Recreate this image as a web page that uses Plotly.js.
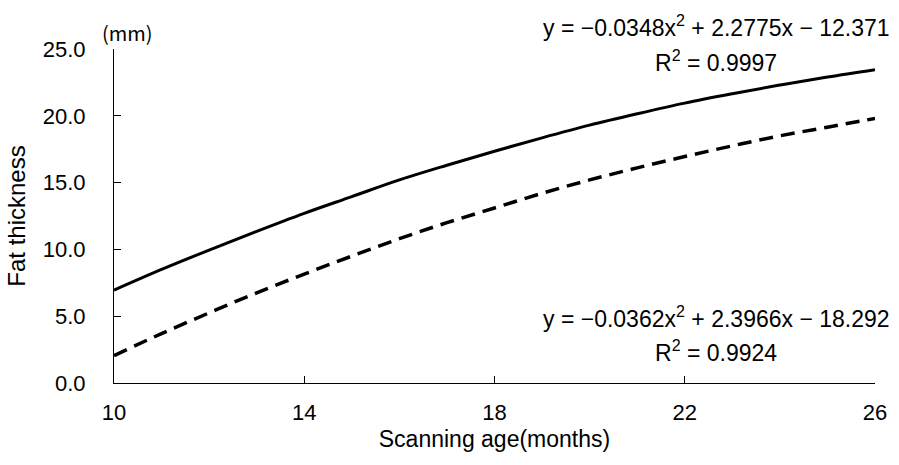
<!DOCTYPE html>
<html>
<head>
<meta charset="utf-8">
<script src="https://cdn.plot.ly/plotly-3.0.1.min.js"></script>
<style>html,body{margin:0;padding:0;background:#fff;}#chart{width:899px;height:465px;}</style>
</head>
<body>
<div id="chart"></div>
<script>
// Scanning age (months)
const ageMonths = [10, 11, 12, 13, 14, 15, 16, 17, 18, 19, 20, 21, 22, 23, 24, 25, 26];
// Fat thickness (mm), solid curve
const fatSolid = [6.95, 8.5, 9.95, 11.35, 12.7, 13.95, 15.2, 16.3, 17.35, 18.35, 19.3, 20.15, 20.95, 21.65, 22.3, 22.9, 23.45];
// Fat thickness (mm), dashed curve
const fatDashed = [2.05, 3.7, 5.25, 6.75, 8.15, 9.5, 10.8, 12.0, 13.1, 14.2, 15.2, 16.1, 16.95, 17.75, 18.5, 19.15, 19.8];
// Axis ticks
const xTicks = [10, 14, 18, 22, 26];
const yTicks = [0, 5, 10, 15, 20, 25];
// Text
const eqSolid = 'y = \u22120.0348x<sup>2</sup> + 2.2775x \u2212 12.371';
const r2Solid = 'R<sup>2</sup> = 0.9997';
const eqDashed = 'y = \u22120.0362x<sup>2</sup> + 2.3966x \u2212 18.292';
const r2Dashed = 'R<sup>2</sup> = 0.9924';

const font = 'Liberation Sans, Arial, sans-serif';

const traces = [
  {x: ageMonths, y: fatSolid, mode: 'lines', line: {color: '#000', width: 3, shape: 'spline'}, showlegend: false},
  {x: ageMonths, y: fatDashed, mode: 'lines', line: {color: '#000', width: 3.5, dash: '14px,8px', shape: 'spline'}, showlegend: false}
];

const layout = {
  width: 899, height: 465,
  margin: {l: 114, r: 24, t: 49, b: 82},
  paper_bgcolor: '#fff', plot_bgcolor: '#fff',
  font: {family: font, size: 22, color: '#000'},
  showlegend: false,
  xaxis: {
    range: [10, 26], tickvals: xTicks, ticktext: xTicks.map(String),
    ticks: 'inside', ticklen: 7, tickcolor: '#000', tickwidth: 1,
    showline: true, linecolor: '#000', linewidth: 1, showgrid: false, zeroline: false,
    tickfont: {family: font, size: 22, color: '#000'},
    ticklabelstandoff: 10,
    title: {text: 'Scanning age(months)', font: {family: font, size: 23, color: '#000'}, standoff: 6}
  },
  yaxis: {
    range: [0, 25], tickvals: yTicks, tickformat: '.1f',
    ticks: 'inside', ticklen: 7, tickcolor: '#000', tickwidth: 1,
    showline: true, linecolor: '#000', linewidth: 1, showgrid: false, zeroline: false,
    tickfont: {family: font, size: 22, color: '#000'},
    ticklabelstandoff: 23,
    title: {text: 'Fat thickness', font: {family: font, size: 24, color: '#000'}, standoff: 10}
  },
  annotations: [
    {xref: 'paper', yref: 'paper', x: 0.018, y: 1.048, xanchor: 'center', yanchor: 'middle', showarrow: false,
     text: '(mm)', font: {family: 'Noto Sans CJK JP, sans-serif', size: 20, color: '#000'}},
    {xref: 'paper', yref: 'paper', x: 1.0223, y: 1.068, xanchor: 'right', yanchor: 'middle', showarrow: false,
     text: eqSolid, font: {family: font, size: 23, color: '#000'}},
    {xref: 'paper', yref: 'paper', x: 0.791, y: 0.963, xanchor: 'center', yanchor: 'middle', showarrow: false,
     text: r2Solid, font: {family: font, size: 23, color: '#000'}},
    {xref: 'paper', yref: 'paper', x: 1.0223, y: 0.198, xanchor: 'right', yanchor: 'middle', showarrow: false,
     text: eqDashed, font: {family: font, size: 23, color: '#000'}},
    {xref: 'paper', yref: 'paper', x: 0.791, y: 0.096, xanchor: 'center', yanchor: 'middle', showarrow: false,
     text: r2Dashed, font: {family: font, size: 23, color: '#000'}}
  ]
};

Plotly.newPlot('chart', traces, layout, {displayModeBar: false, staticPlot: true});
</script>
</body>
</html>
